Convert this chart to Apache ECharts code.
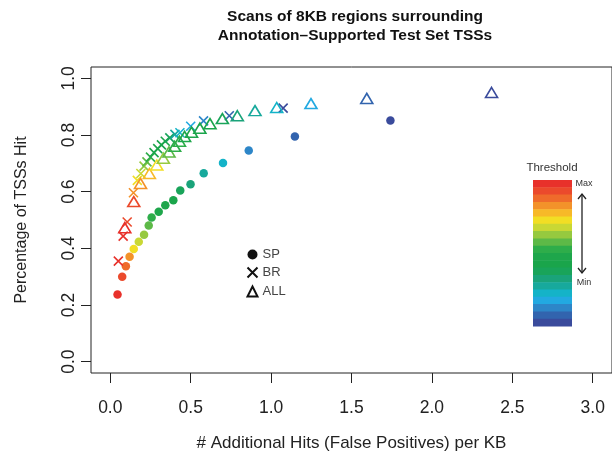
<!DOCTYPE html>
<html>
<head>
<meta charset="utf-8">
<script src="https://cdn.jsdelivr.net/npm/echarts@6/dist/echarts.min.js"></script>
<style>
  html, body { margin: 0; padding: 0; background: #fff; }
  #chart { width: 612px; height: 457px; }
</style>
</head>
<body>
<div id="chart"></div>
<script>
// threshold colours, from max (top of the bar) to min (bottom)
var thresholdColors = ['#E8312B', '#EB4A2C', '#EF6B2B', '#F3922A', '#F7B928', '#F2DE24', '#C9D834', '#96C93F',
  '#5DB947', '#2EAD4A', '#1EA64B', '#1AA54B', '#19A45A', '#1AA37A', '#17A99C', '#14B3C8',
  '#22A9E1', '#2D86C8', '#3264AE', '#3A4B9C'];

var xTicks = [0, 0.5, 1.0, 1.5, 2.0, 2.5, 3.0];
var yTicks = [0, 0.2, 0.4, 0.6, 0.8, 1.0];

var spX = [0.045, 0.074, 0.097, 0.120, 0.146, 0.177, 0.210, 0.239, 0.257, 0.301, 0.342, 0.392, 0.435, 0.499, 0.581, 0.701, 0.861, 1.148, 1.742];
var spY = [0.237, 0.300, 0.337, 0.370, 0.398, 0.423, 0.448, 0.481, 0.509, 0.529, 0.552, 0.570, 0.604, 0.626, 0.665, 0.701, 0.745, 0.795, 0.851];
var spLevel = [0, 1, 2, 3, 5, 6, 7, 8, 9, 10, 10, 11, 12, 13, 14, 15, 17, 18, 19];

var brX = [0.050, 0.080, 0.105, 0.144, 0.168, 0.190, 0.210, 0.228, 0.250, 0.272, 0.295, 0.318, 0.342, 0.370, 0.402, 0.433, 0.500, 0.580, 0.740, 1.075];
var brY = [0.355, 0.443, 0.493, 0.596, 0.640, 0.664, 0.690, 0.705, 0.722, 0.738, 0.752, 0.765, 0.778, 0.790, 0.802, 0.808, 0.831, 0.850, 0.868, 0.895];
var brLevel = [0, 0, 1, 3, 5, 6, 7, 8, 9, 10, 10, 11, 11, 12, 14, 15, 16, 17, 18, 19];

var allX = [0.090, 0.146, 0.188, 0.243, 0.289, 0.330, 0.365, 0.400, 0.430, 0.462, 0.505, 0.557, 0.620, 0.697, 0.790, 0.900, 1.035, 1.248, 1.595, 2.371];
var allY = [0.473, 0.565, 0.629, 0.664, 0.694, 0.718, 0.740, 0.760, 0.778, 0.795, 0.810, 0.824, 0.840, 0.858, 0.868, 0.886, 0.897, 0.911, 0.929, 0.950];
var allLevel = [0, 1, 3, 4, 5, 7, 8, 9, 9, 10, 10, 11, 11, 12, 13, 14, 15, 16, 18, 19];

var FONT = 'Liberation Sans, Arial, Helvetica, sans-serif';
var crossPath = 'path://M0,0L10,10M10,0L0,10';

function filledPoints(xs, ys, levels) {
  return xs.map(function (x, i) {
    return { value: [x, ys[i]], itemStyle: { color: thresholdColors[levels[i]] } };
  });
}
function outlinePoints(xs, ys, levels) {
  return xs.map(function (x, i) {
    return { value: [x, ys[i]], itemStyle: { borderColor: thresholdColors[levels[i]] } };
  });
}

var chart = echarts.init(document.getElementById('chart'), null, { renderer: 'canvas' });

// colour bar + Max/Min arrow
var barTop = 180, barH = 146, bandH = barH / thresholdColors.length;
var graphics = thresholdColors.map(function (c, i) {
  return {
    type: 'rect',
    shape: { x: 533, y: barTop + i * bandH, width: 39, height: bandH + 0.5 },
    style: { fill: c }
  };
});
graphics.push(
  { type: 'text', x: 355, y: 17, style: { text: 'Scans of 8KB regions surrounding', font: 'bold 15.5px ' + FONT, fill: '#111', textAlign: 'center', textVerticalAlign: 'middle' } },
  { type: 'text', x: 355, y: 36, style: { text: 'Annotation\u2013Supported Test Set TSSs', font: 'bold 15.5px ' + FONT, fill: '#111', textAlign: 'center', textVerticalAlign: 'middle' } },
  { type: 'text', x: 552, y: 168, style: { text: 'Threshold', font: '11.5px ' + FONT, fill: '#333', textAlign: 'center', textVerticalAlign: 'middle' } },
  { type: 'text', x: 584, y: 184, style: { text: 'Max', font: '9px ' + FONT, fill: '#333', textAlign: 'center', textVerticalAlign: 'middle' } },
  { type: 'text', x: 584, y: 283, style: { text: 'Min', font: '9px ' + FONT, fill: '#333', textAlign: 'center', textVerticalAlign: 'middle' } },
  { type: 'polyline', shape: { points: [[582, 194], [582, 273]] }, style: { stroke: '#222', lineWidth: 1.3 } },
  { type: 'polyline', shape: { points: [[578, 199], [582, 194], [586, 199]] }, style: { stroke: '#222', lineWidth: 1.3, fill: null } },
  { type: 'polyline', shape: { points: [[578, 268], [582, 273], [586, 268]] }, style: { stroke: '#222', lineWidth: 1.3, fill: null } }
);

var option = {
  animation: false,
  backgroundColor: '#fff',
  textStyle: { fontFamily: FONT },
  grid: {
    left: 91, right: -2, top: 67, bottom: 81,
    show: true, borderColor: '#222', borderWidth: 1, backgroundColor: 'transparent'
  },
  legend: {
    orient: 'vertical',
    left: 245, top: 248,
    padding: 0,
    itemGap: 4,
    itemWidth: 10, itemHeight: 10,
    textStyle: { fontSize: 13, color: '#444', fontFamily: FONT },
    data: ['SP', 'BR', 'ALL']
  },
  xAxis: {
    type: 'value',
    min: -0.12, max: 3.12,
    name: '# Additional Hits (False Positives) per KB',
    nameLocation: 'middle',
    nameGap: 62,
    nameTextStyle: { fontSize: 17, color: '#222' },
    axisLine: { show: false, onZero: false },
    axisTick: { show: true, length: 10, customValues: xTicks, lineStyle: { color: '#222' } },
    axisLabel: {
      customValues: xTicks, margin: 26, fontSize: 17.5, color: '#222',
      formatter: function (v) { return v.toFixed(1); }
    },
    splitLine: { show: false }
  },
  yAxis: {
    type: 'value',
    min: -0.04, max: 1.04,
    name: 'Percentage of TSSs Hit',
    nameLocation: 'middle',
    nameGap: 61,
    nameRotate: 90,
    nameTextStyle: { fontSize: 16, color: '#222' },
    axisLine: { show: false, onZero: false },
    axisTick: { show: true, length: 10, customValues: yTicks, lineStyle: { color: '#222' } },
    axisLabel: {
      customValues: yTicks, rotate: 90, margin: 13, fontSize: 17.5, color: '#222',
      formatter: function (v) { return v.toFixed(1); }
    },
    splitLine: { show: false }
  },
  series: [
    {
      name: 'SP',
      type: 'scatter',
      symbol: 'circle',
      symbolSize: 8.5,
      itemStyle: { color: '#111', opacity: 1 },
      data: filledPoints(spX, spY, spLevel)
    },
    {
      name: 'BR',
      type: 'scatter',
      symbol: crossPath,
      symbolSize: 9,
      itemStyle: { color: 'none', borderColor: '#111', borderWidth: 1.6, opacity: 1 },
      data: outlinePoints(brX, brY, brLevel)
    },
    {
      name: 'ALL',
      type: 'scatter',
      symbol: 'triangle',
      symbolSize: [12, 10],
      itemStyle: { color: 'none', borderColor: '#111', borderWidth: 1.6, opacity: 1 },
      data: outlinePoints(allX, allY, allLevel)
    }
  ],
  graphic: graphics
};

chart.setOption(option);
</script>
</body>
</html>
